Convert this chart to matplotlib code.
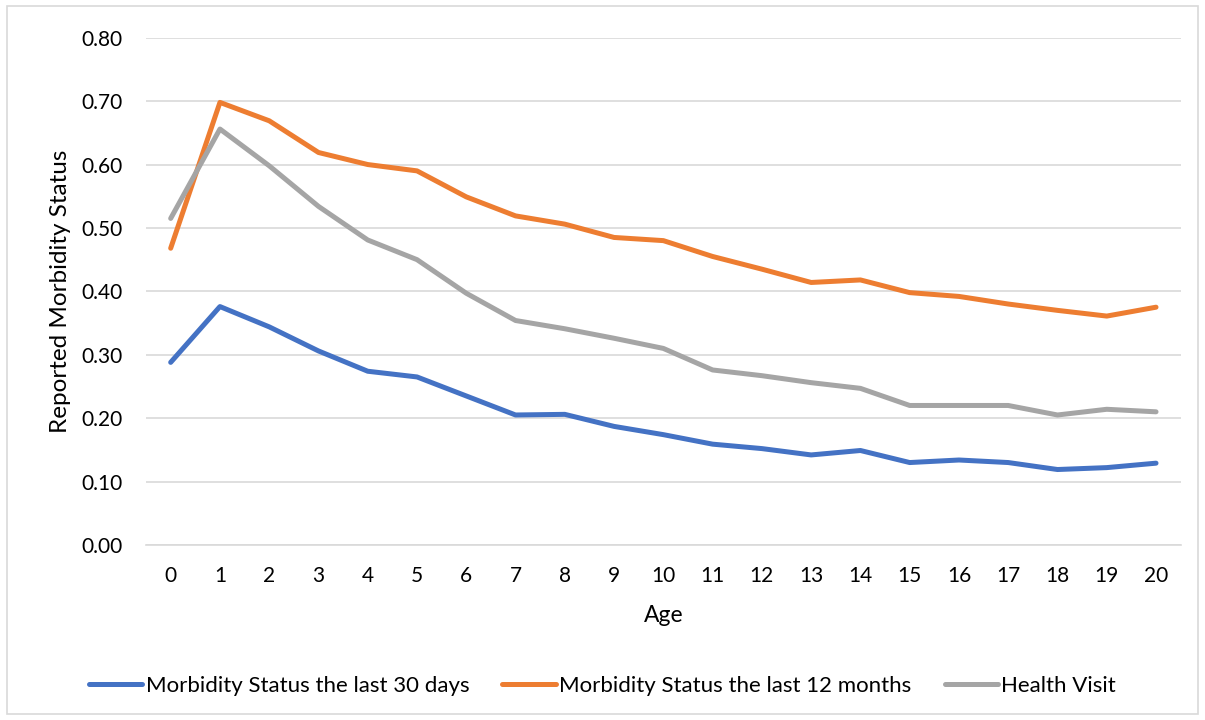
import matplotlib
matplotlib.use("Agg")
import matplotlib.pyplot as plt
from matplotlib.patches import Rectangle

ages = list(range(21))
morbidity_30_days = [0.288, 0.376, 0.344, 0.306, 0.274, 0.265, 0.235, 0.205, 0.206,
                     0.187, 0.174, 0.159, 0.152, 0.142, 0.149, 0.130, 0.134, 0.130,
                     0.119, 0.122, 0.129]
morbidity_12_months = [0.468, 0.698, 0.669, 0.619, 0.600, 0.590, 0.549, 0.519, 0.506,
                       0.485, 0.480, 0.455, 0.435, 0.414, 0.418, 0.398, 0.392, 0.380,
                       0.370, 0.361, 0.375]
health_visit = [0.515, 0.656, 0.598, 0.534, 0.481, 0.450, 0.397, 0.354, 0.341,
                0.326, 0.310, 0.276, 0.267, 0.256, 0.247, 0.220, 0.220, 0.220,
                0.205, 0.214, 0.210]
series_labels = ["Morbidity Status the last 30 days",
                 "Morbidity Status the last 12 months",
                 "Health Visit"]
y_ticks = [0.0, 0.1, 0.2, 0.3, 0.4, 0.5, 0.6, 0.7, 0.8]

colors = ["#4472C4", "#ED7D31", "#A5A5A5"]
plt.rcParams["font.family"] = ["Lato", "DejaVu Sans"]

fig = plt.figure(figsize=(12.05, 7.2), dpi=100)
ax = fig.add_axes([0.1212, 0.2431, 0.8586, 0.7045])

for values, label, color in zip([morbidity_30_days, morbidity_12_months, health_visit],
                                series_labels, colors):
    ax.plot(ages, values, color=color, lw=3.6, label=label,
            solid_capstyle="round", solid_joinstyle="round")

ax.set_xlim(-0.5, 20.5)
ax.set_ylim(0, 0.8)
ax.set_yticks(y_ticks)
ax.set_yticklabels([f"{v:.2f}" for v in y_ticks])
ax.set_xticks(ages)
ax.set_xticklabels([str(a) for a in ages])
ax.grid(axis="y", color="#D9D9D9", lw=1.2)
ax.set_axisbelow(True)
for side in ["top", "right", "left"]:
    ax.spines[side].set_visible(False)
ax.spines["bottom"].set_color("#D9D9D9")
ax.spines["bottom"].set_linewidth(1.2)
ax.tick_params(axis="both", length=0, labelsize=15, colors="black")
ax.tick_params(axis="y", pad=17)
ax.tick_params(axis="x", pad=15)

ax.set_xlabel("Age", fontsize=16.5, labelpad=14)
ax.set_ylabel("Reported Morbidity Status", fontsize=17.5, labelpad=7)

fig.legend(loc="center", bbox_to_anchor=(0.5, 0.047), ncol=3, frameon=False,
           fontsize=16, handlelength=2.4, handletextpad=0.15, columnspacing=1.5)

fig.patches.append(Rectangle((0.006, 0.009), 0.988, 0.982, transform=fig.transFigure,
                             fill=False, edgecolor="#D9D9D9", lw=1.2))

fig.savefig("out.png", dpi=100, facecolor="white")
